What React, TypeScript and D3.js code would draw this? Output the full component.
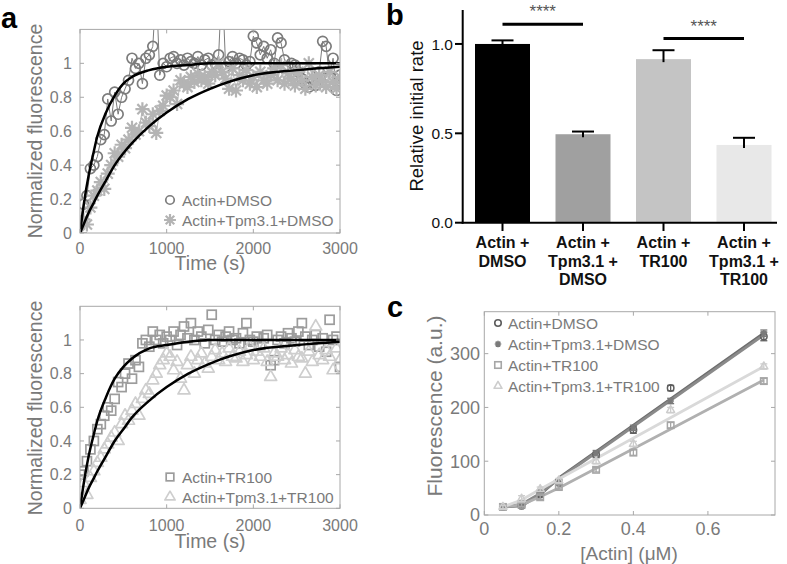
import React from "react";
import * as d3 from "d3";

const FONT = "'Liberation Sans', Arial, Helvetica, sans-serif";

// ---------- Panel a: polymerization kinetics ----------
const timeStep = 40; // s between samples
const actinDmso = [
  0.05, 0.17, 0.22, 0.38, 0.40, 0.45, 0.55, 0.58, 0.79, 0.66,
  0.83, 0.70, 0.80, 0.85, 0.90, 1.03, 0.97, 1.00, 0.88, 1.03,
  1.05, 1.10, 1.45, 0.93, 1.00, 0.98, 1.03, 1.04, 1.00, 1.02,
  0.99, 1.03, 1.01, 1.00, 1.04, 0.99, 1.02, 1.03, 0.99, 1.00,
  1.05, 1.50, 0.98, 1.01, 1.04, 1.00, 1.03, 1.02, 0.99, 1.01,
  1.16, 1.12, 1.05, 1.10, 1.03, 1.08, 1.00, 1.15, 1.12, 1.02,
  0.98, 1.00, 0.99, 0.95, 0.91, 0.88, 0.86, 0.90, 0.87, 0.95,
  1.13, 1.10, 0.92, 1.03, 0.84, 0.93,
];
const actinTpmDmso = [
  0.00, 0.08, 0.05, 0.15, 0.22, 0.25, 0.30, 0.26, 0.35, 0.40,
  0.47, 0.45, 0.52, 0.50, 0.55, 0.62, 0.58, 0.60, 0.73, 0.65,
  0.63, 0.70, 0.59, 0.72, 0.75, 0.81, 0.80, 0.84, 0.76, 0.90,
  0.88, 0.86, 0.92, 0.89, 0.94, 0.90, 0.92, 0.88, 0.95, 0.93,
  1.00, 0.95, 0.91, 0.85, 0.97, 0.84, 0.93, 0.90, 0.96, 0.88,
  0.92, 0.86, 0.95, 0.90, 0.88, 0.93, 0.97, 0.90, 0.99, 0.88,
  0.94, 0.91, 0.87, 0.95, 0.90, 0.85, 1.00, 0.92, 0.87, 0.93,
  0.90, 0.86, 0.95, 0.89, 0.85, 0.92,
];
const actinTr100 = [
  0.20, 0.22, 0.28, 0.35, 0.40, 0.47, 0.50, 0.55, 0.60, 0.58,
  0.65, 0.75, 0.72, 0.80, 0.86, 0.77, 0.88, 0.84, 0.98, 1.00,
  0.96, 1.05, 1.00, 1.03, 0.98, 1.02, 1.00, 1.05, 0.97, 1.03,
  1.08, 1.01, 1.10, 1.00, 1.05, 1.02, 0.98, 1.06, 1.15, 1.00,
  1.03, 0.99, 1.02, 1.05, 1.00, 1.01, 0.98, 1.04, 1.10, 1.00,
  0.99, 1.02, 0.97, 1.01, 1.03, 0.85, 0.88, 1.00, 1.02, 0.98,
  1.04, 1.01, 0.99, 1.05, 1.10, 1.02, 0.97, 1.00, 1.03, 0.96,
  1.01, 0.93, 1.12, 1.00, 1.02, 0.84,
];
const actinTpmTr100 = [
  0.05, 0.15, 0.08, 0.18, 0.22, 0.27, 0.30, 0.35, 0.38, 0.42,
  0.45, 0.40, 0.50, 0.55, 0.52, 0.58, 0.62, 0.55, 0.65, 0.70,
  0.68, 0.76, 0.80, 0.85, 0.88, 0.92, 0.90, 0.82, 0.87, 0.77,
  0.70, 0.85, 0.90, 0.80, 0.88, 0.92, 0.86, 0.83, 0.90, 0.94,
  0.88, 0.92, 0.87, 0.95, 0.90, 0.89, 0.93, 0.87, 0.91, 0.96,
  0.88, 0.93, 0.90, 0.95, 0.87, 0.78, 0.92, 0.90, 0.95, 0.88,
  0.91, 0.86, 0.94, 0.90, 0.89, 0.80, 0.93, 0.87, 1.08, 0.91,
  0.88, 0.94, 0.90, 0.82, 0.95, 0.88,
];
const fitTimes = [0, 50, 100, 150, 200, 300, 400, 500, 600, 800, 1000, 1250, 1500, 2000, 2500, 3000];
const fitFastTop = [0, 0.19, 0.34, 0.46, 0.57, 0.71, 0.81, 0.88, 0.92, 0.96, 0.98, 0.99, 1.0, 1.0, 1.0, 1.0];
const fitSlowTop = [0, 0.06, 0.12, 0.17, 0.22, 0.31, 0.4, 0.47, 0.53, 0.63, 0.71, 0.79, 0.85, 0.93, 0.96, 0.98];
const fitFastBottom = [0, 0.17, 0.31, 0.42, 0.52, 0.66, 0.77, 0.84, 0.89, 0.95, 0.97, 0.99, 1.0, 1.0, 1.0, 1.0];
const fitSlowBottom = [0, 0.06, 0.12, 0.17, 0.22, 0.31, 0.4, 0.47, 0.54, 0.64, 0.72, 0.8, 0.86, 0.94, 0.97, 0.99];
const kineticXTicks = [0, 1000, 2000, 3000];
const kineticYTicks = [0, 0.2, 0.4, 0.6, 0.8, 1];

// ---------- Panel b: relative initial rate ----------
const barCategories = [
  ["Actin +", "DMSO"],
  ["Actin +", "Tpm3.1 +", "DMSO"],
  ["Actin +", "TR100"],
  ["Actin +", "Tpm3.1 +", "TR100"],
];
const barValues = [1.0, 0.495, 0.915, 0.435];
const barErrors = [0.02, 0.015, 0.05, 0.04];
const barColors = ["#000000", "#a0a0a0", "#c4c4c4", "#e8e8e8"];
const barYTicks = [0, 0.5, 1.0];
const sigPairs = [
  [0, 1, 1.11],
  [2, 3, 1.03],
];

// ---------- Panel c: fluorescence vs [actin] ----------
const concentrations = [0.05, 0.1, 0.15, 0.2, 0.3, 0.4, 0.5, 0.75];
const fluoDmso = [15, 17, 38, 60, 112, 158, 236, 332];
const fluoDmsoErr = [3, 4, 4, 5, 5, 6, 5, 8];
const fluoTpmDmso = [15, 22, 42, 62, 115, 162, 212, 338];
const fluoTpmDmsoErr = [3, 4, 4, 4, 5, 5, 5, 6];
const fluoTr100 = [15, 19, 33, 52, 84, 116, 167, 249];
const fluoTr100Err = [3, 3, 4, 4, 4, 5, 5, 5];
const fluoTpmTr100 = [15, 30, 48, 64, 100, 132, 195, 276];
const fluoTpmTr100Err = [3, 6, 4, 4, 5, 5, 5, 5];
const fitConc = [0.05, 0.1, 0.15, 0.2, 0.75];
const fitDmso = [15, 17, 38, 69, 338];
const fitTpmDmso = [15, 20, 40, 67, 335];
const fitTr100 = [15, 19, 34, 50, 251];
const fitTpmTr100 = [15, 28, 48, 67, 276];
const concXTicks = [0, 0.2, 0.4, 0.6];
const concYTicks = [0, 100, 200, 300];

type Shape = "circle" | "star" | "square" | "triangle";

function Marker({ shape, x, y, size, color, sw = 1.4 }: { shape: Shape; x: number; y: number; size: number; color: string; sw?: number }) {
  const h = size / 2;
  if (shape === "circle") return <circle cx={x} cy={y} r={h} fill="none" stroke={color} strokeWidth={sw} />;
  if (shape === "square") return <rect x={x - h} y={y - h} width={size} height={size} fill="none" stroke={color} strokeWidth={sw} />;
  if (shape === "triangle") {
    const d = `M${x},${y - size * 0.577}L${x + h},${y + size * 0.289}L${x - h},${y + size * 0.289}Z`;
    return <path d={d} fill="none" stroke={color} strokeWidth={sw} strokeLinejoin="round" />;
  }
  const q = h * 0.72;
  const d = `M${x - h},${y}L${x + h},${y}M${x},${y - h}L${x},${y + h}M${x - q},${y - q}L${x + q},${y + q}M${x - q},${y + q}L${x + q},${y - q}`;
  return <path d={d} fill="none" stroke={color} strokeWidth={sw} />;
}

function BoxAxes({ xs, ys, xTicks, yTicks, fmtX, fmtY, fs, xLabelBase, yLabelRight }: any) {
  const [x0, x1] = xs.range();
  const [y0, y1] = ys.range();
  const c = "#a8a8a8";
  return (
    <g>
      <rect x={x0} y={y1} width={x1 - x0} height={y0 - y1} fill="none" stroke={c} strokeWidth={1} />
      {xTicks.map((t: number) => (
        <g key={"x" + t}>
          <line x1={xs(t)} x2={xs(t)} y1={y0} y2={y0 - 4} stroke={c} />
          <line x1={xs(t)} x2={xs(t)} y1={y1} y2={y1 + 4} stroke={c} />
          <text x={xs(t)} y={xLabelBase} textAnchor="middle" fontSize={fs} fill="#7a7a7a" fontFamily={FONT}>
            {fmtX(t)}
          </text>
        </g>
      ))}
      {yTicks.map((t: number) => (
        <g key={"y" + t}>
          <line x1={x0} x2={x0 + 4} y1={ys(t)} y2={ys(t)} stroke={c} />
          <line x1={x1} x2={x1 - 4} y1={ys(t)} y2={ys(t)} stroke={c} />
          <text x={yLabelRight} y={ys(t)} dy="0.36em" textAnchor="end" fontSize={fs} fill="#7a7a7a" fontFamily={FONT}>
            {fmtY(t)}
          </text>
        </g>
      ))}
    </g>
  );
}

function KineticPanel({ id, yRange, series, fits, legendY, connect, xLabelBase, tickBase, ylabelY }: any) {
  const xs = d3.scaleLinear().domain([0, 3000]).range([80, 340]);
  const ys = d3.scaleLinear().domain([0, 1.2]).range(yRange);
  const line = d3.line<[number, number]>().x((d) => xs(d[0])).y((d) => ys(d[1]));
  const fitLine = d3
    .line<[number, number]>()
    .x((d) => xs(d[0]))
    .y((d) => ys(d[1]))
    .curve(d3.curveMonotoneX);
  return (
    <g>
      <defs>
        <clipPath id={id}>
          <rect x={80} y={yRange[1]} width={260} height={yRange[0] - yRange[1]} />
        </clipPath>
      </defs>
      <g clipPath={`url(#${id})`}>
        {series.map((s: any, si: number) => {
          const pts: [number, number][] = s.values.map((v: number, i: number) => [i * timeStep, v]);
          return (
            <g key={si}>
              {connect && <path d={line(pts) || ""} fill="none" stroke={s.color} strokeWidth={1} />}
              {pts.map((p, i) => (
                <Marker key={i} shape={s.shape} x={xs(p[0])} y={ys(p[1])} size={s.size} color={s.color} sw={s.sw} />
              ))}
            </g>
          );
        })}
        {fits.map((f: number[], fi: number) => (
          <path
            key={fi}
            d={fitLine(fitTimes.map((t, i) => [t, f[i]] as [number, number])) || ""}
            fill="none"
            stroke="#000"
            strokeWidth={2.5}
          />
        ))}
      </g>
      <BoxAxes
        xs={xs}
        ys={ys}
        xTicks={kineticXTicks}
        yTicks={kineticYTicks}
        fmtX={(t: number) => String(t)}
        fmtY={(t: number) => String(t)}
        fs={16}
        xLabelBase={tickBase}
        yLabelRight={72}
      />
      {series.map((s: any, si: number) => (
        <g key={"lg" + si}>
          <Marker shape={s.shape} x={170} y={legendY + si * 20} size={s.size * 0.85} color={s.color} sw={s.sw} />
          <text x={182} y={legendY + si * 20} dy="0.36em" fontSize={15.5} fill="#7a7a7a" fontFamily={FONT}>
            {s.name}
          </text>
        </g>
      ))}
      <text x={210} y={xLabelBase} textAnchor="middle" fontSize={19.5} fill="#7a7a7a" fontFamily={FONT}>
        Time (s)
      </text>
      <text
        transform={`translate(42,${ylabelY}) rotate(-90)`}
        textAnchor="middle"
        fontSize={19.5}
        fill="#7a7a7a"
        fontFamily={FONT}
      >
        Normalized fluorescence
      </text>
    </g>
  );
}

function BarPanel() {
  const ys = d3.scaleLinear().domain([0, 1.19]).range([222.7, 10]);
  const xs = d3.scalePoint<number>().domain(d3.range(barValues.length)).range([502.5, 744]);
  const bw = 55;
  return (
    <g fontFamily={FONT}>
      {barValues.map((v, i) => (
        <g key={i}>
          <rect x={xs(i)! - bw / 2} y={ys(v)} width={bw} height={ys(0) - ys(v)} fill={barColors[i]} />
          <line x1={xs(i)} x2={xs(i)} y1={ys(v) + 3} y2={ys(v + barErrors[i])} stroke="#000" strokeWidth={2} />
          <line x1={xs(i)! - 11} x2={xs(i)! + 11} y1={ys(v + barErrors[i])} y2={ys(v + barErrors[i])} stroke="#000" strokeWidth={2} />
          <line x1={xs(i)} x2={xs(i)} y1={222.7} y2={231} stroke="#000" strokeWidth={2} />
          {barCategories[i].map((lab, li) => (
            <text key={li} x={xs(i)} y={248 + li * 18.5} textAnchor="middle" fontSize={16} fontWeight="bold" fill="#111">
              {lab}
            </text>
          ))}
        </g>
      ))}
      <line x1={462.7} x2={462.7} y1={10} y2={223.7} stroke="#000" strokeWidth={2} />
      <line x1={461.7} x2={777} y1={222.7} y2={222.7} stroke="#000" strokeWidth={2} />
      {barYTicks.map((t) => (
        <g key={t}>
          <line x1={455} x2={462.7} y1={ys(t)} y2={ys(t)} stroke="#000" strokeWidth={2} />
          <text x={453} y={ys(t)} dy="0.36em" textAnchor="end" fontSize={15.5} fill="#111">
            {t.toFixed(1)}
          </text>
        </g>
      ))}
      {sigPairs.map(([a, b, h], k) => (
        <g key={k}>
          <line x1={xs(a)} x2={xs(b)} y1={ys(h)} y2={ys(h)} stroke="#000" strokeWidth={3} />
          <text x={(xs(a)! + xs(b)!) / 2} y={ys(h) - 7} textAnchor="middle" fontSize={17} fill="#555">
            ****
          </text>
        </g>
      ))}
      <text transform="translate(423,116) rotate(-90)" textAnchor="middle" fontSize={18.5} fill="#111">
        Relative initial rate
      </text>
    </g>
  );
}

function ConcPanel() {
  const xs = d3.scaleLinear().domain([0, 0.78]).range([484.3, 775]);
  const ys = d3.scaleLinear().domain([0, 378]).range([515, 311.7]);
  const series = [
    { name: "Actin+DMSO", shape: "circle", vals: fluoDmso, err: fluoDmsoErr, fit: fitDmso, color: "#5e5e5e", fitColor: "#6e6e6e" },
    { name: "Actin+Tpm3.1+DMSO", shape: "star", vals: fluoTpmDmso, err: fluoTpmDmsoErr, fit: fitTpmDmso, color: "#7a7a7a", fitColor: "#8a8a8a" },
    { name: "Actin+TR100", shape: "square", vals: fluoTr100, err: fluoTr100Err, fit: fitTr100, color: "#a6a6a6", fitColor: "#b0b0b0" },
    { name: "Actin+Tpm3.1+TR100", shape: "triangle", vals: fluoTpmTr100, err: fluoTpmTr100Err, fit: fitTpmTr100, color: "#cdcdcd", fitColor: "#d9d9d9" },
  ];
  const line = d3.line<[number, number]>().x((d) => xs(d[0])).y((d) => ys(d[1]));
  return (
    <g>
      {series.map((s, si) => (
        <path
          key={"f" + si}
          d={line(fitConc.map((c, i) => [c, s.fit[i]] as [number, number])) || ""}
          fill="none"
          stroke={s.fitColor}
          strokeWidth={2.8}
        />
      ))}
      {series.map((s, si) => (
        <g key={"s" + si}>
          {concentrations.map((c, i) => (
            <g key={i}>
              <line x1={xs(c)} x2={xs(c)} y1={ys(s.vals[i] - s.err[i])} y2={ys(s.vals[i] + s.err[i])} stroke={s.color} strokeWidth={1.3} />
              <line x1={xs(c) - 3.5} x2={xs(c) + 3.5} y1={ys(s.vals[i] - s.err[i])} y2={ys(s.vals[i] - s.err[i])} stroke={s.color} strokeWidth={1.3} />
              <line x1={xs(c) - 3.5} x2={xs(c) + 3.5} y1={ys(s.vals[i] + s.err[i])} y2={ys(s.vals[i] + s.err[i])} stroke={s.color} strokeWidth={1.3} />
              <Marker shape={s.shape as Shape} x={xs(c)} y={ys(s.vals[i])} size={s.shape === "triangle" ? 8 : 6.5} color={s.color} sw={1.5} />
            </g>
          ))}
        </g>
      ))}
      <BoxAxes
        xs={xs}
        ys={ys}
        xTicks={concXTicks}
        yTicks={concYTicks}
        fmtX={(t: number) => String(t)}
        fmtY={(t: number) => String(t)}
        fs={18}
        xLabelBase={535}
        yLabelRight={480}
      />
      {series.map((s, si) => (
        <g key={"lg" + si}>
          <Marker shape={s.shape as Shape} x={498} y={323 + si * 21} size={s.shape === "triangle" ? 8 : 6.5} color={s.color} sw={1.6} />
          <text x={508} y={323 + si * 21} dy="0.36em" fontSize={15.5} fill="#7a7a7a" fontFamily={FONT}>
            {s.name}
          </text>
        </g>
      ))}
      <text x={629} y={560} textAnchor="middle" fontSize={19} fill="#7a7a7a" fontFamily={FONT}>
        [Actin] (μM)
      </text>
      <text transform="translate(442,406) rotate(-90)" textAnchor="middle" fontSize={21} fill="#7a7a7a" fontFamily={FONT}>
        Fluorescence (a.u.)
      </text>
    </g>
  );
}

export default function App() {
  const topSeries = [
    { name: "Actin+DMSO", shape: "circle", values: actinDmso, color: "#7c7c7c", size: 10, sw: 1.7 },
    { name: "Actin+Tpm3.1+DMSO", shape: "star", values: actinTpmDmso, color: "#b4b4b4", size: 14, sw: 2.2 },
  ];
  const bottomSeries = [
    { name: "Actin+TR100", shape: "square", values: actinTr100, color: "#9c9c9c", size: 9, sw: 1.7 },
    { name: "Actin+Tpm3.1+TR100", shape: "triangle", values: actinTpmTr100, color: "#cecece", size: 12, sw: 1.7 },
  ];
  return (
    <svg width={787} height={564} style={{ position: "absolute", left: 0, top: 0, background: "#fff" }}>
      <rect width={787} height={564} fill="#fff" />
      <KineticPanel
        id="clipA1"
        yRange={[233, 29.4]}
        series={topSeries}
        fits={[fitFastTop, fitSlowTop]}
        legendY={200}
        connect={true}
        xLabelBase={270}
        tickBase={254}
        ylabelY={131}
      />
      <KineticPanel
        id="clipA2"
        yRange={[508.3, 306.3]}
        series={bottomSeries}
        fits={[fitFastBottom, fitSlowBottom]}
        legendY={477}
        connect={false}
        xLabelBase={548}
        tickBase={531}
        ylabelY={408}
      />
      <BarPanel />
      <ConcPanel />
      <g fontFamily={FONT} fontWeight="bold" fontSize={29} fill="#000">
        <text x={1} y={28}>a</text>
        <text x={386} y={25}>b</text>
        <text x={387} y={317}>c</text>
      </g>
    </svg>
  );
}
